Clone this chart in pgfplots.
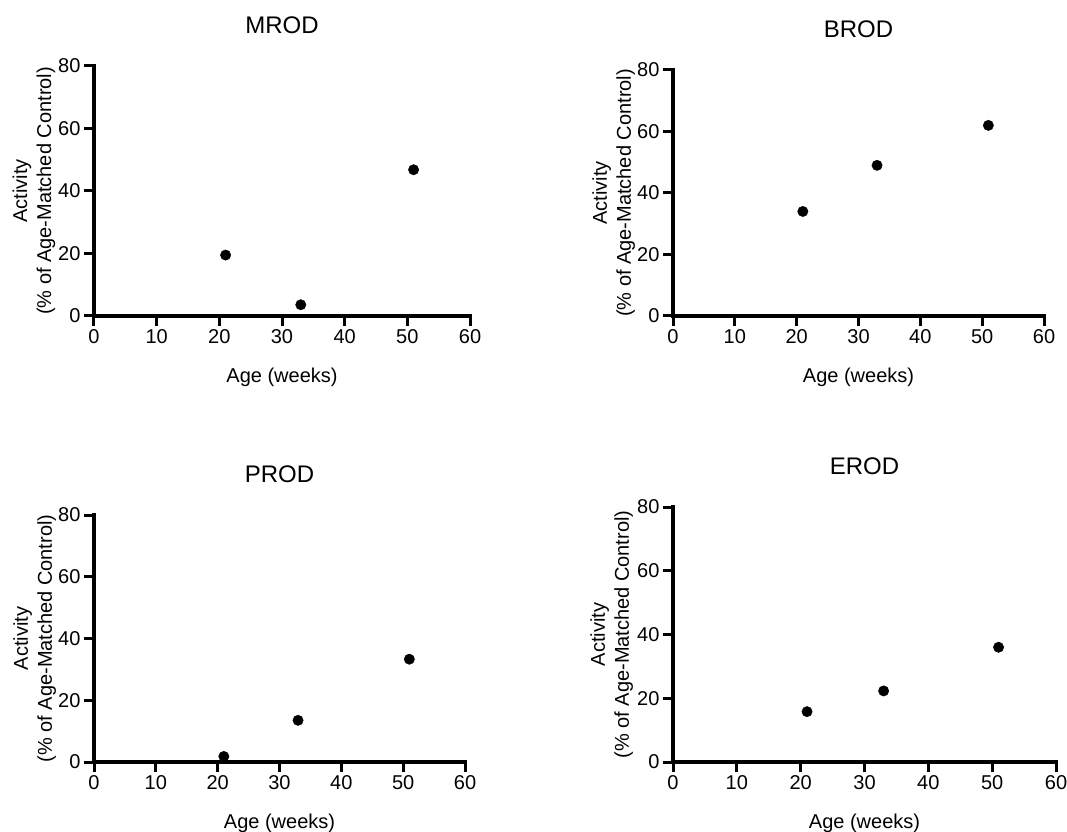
\documentclass[border=0pt]{standalone}
\usepackage{fontspec}
\setmainfont{Liberation Sans}
\usepackage{pgfplots}
\pgfplotsset{compat=1.18}

\pgfplotsset{
  panel/.style={
    scale only axis,
    axis x line*=bottom,
    axis y line*=left,
    every outer x axis line/.append style={-, line width=4.3pt, line cap=rect},
    every outer y axis line/.append style={-, line width=4.3pt, line cap=rect},
    xmin=0, xmax=60, ymin=0, ymax=80,
    xtick={0,10,...,60}, ytick={0,20,...,80},
    tick align=outside,
    major tick length=10pt,
    every tick/.append style={line width=3pt, black},
    /pgf/number format/assume math mode=true,
    ticklabel style={font=\fontsize{20}{24}\selectfont},
    title style={at={(axis description cs:0.5,1)}, anchor=center, yshift=35pt,
                 font=\fontsize{24}{28}\selectfont},
    xlabel={Age (weeks)},
    x label style={at={(axis description cs:0.5,0)}, anchor=center, yshift=-61pt,
                   font=\fontsize{20}{24}\selectfont},
    ylabel={Activity\\(\% of Age-Matched Control)},
    y label style={at={(axis description cs:-0.16,0.5)}, anchor=center,
                   align=center, font=\fontsize{20}{24}\selectfont},
    clip=false,
  },
  dots/.style={only marks, mark=*, mark size=5.2pt, color=black,
               mark options={fill=black, draw=black}},
}

\begin{document}
\begin{tikzpicture}[x=1pt,y=1pt]
\useasboundingbox (0,0) rectangle (1067,831);

% MROD
\begin{axis}[panel, at={(94pt,515pt)}, anchor=south west,
  width=376pt, height=250pt, title={MROD}]
\addplot[dots] coordinates {(21,19.5) (33,3.6) (51,46.8)};
\end{axis}

% BROD
\begin{axis}[panel, at={(673pt,515pt)}, anchor=south west,
  width=371pt, height=246pt, title={BROD}]
\addplot[dots] coordinates {(21,34.0) (33,49.0) (51,62.0)};
\end{axis}

% PROD
\begin{axis}[panel, at={(94pt,69pt)}, anchor=south west,
  width=371pt, height=247pt, title={PROD}]
\addplot[dots] coordinates {(21,1.8) (33,13.5) (51,33.3)};
\end{axis}

% EROD
\begin{axis}[panel, at={(673pt,69pt)}, anchor=south west,
  width=383pt, height=255pt, title={EROD}]
\addplot[dots] coordinates {(21,15.8) (33,22.3) (51,36.0)};
\end{axis}

\end{tikzpicture}
\end{document}
